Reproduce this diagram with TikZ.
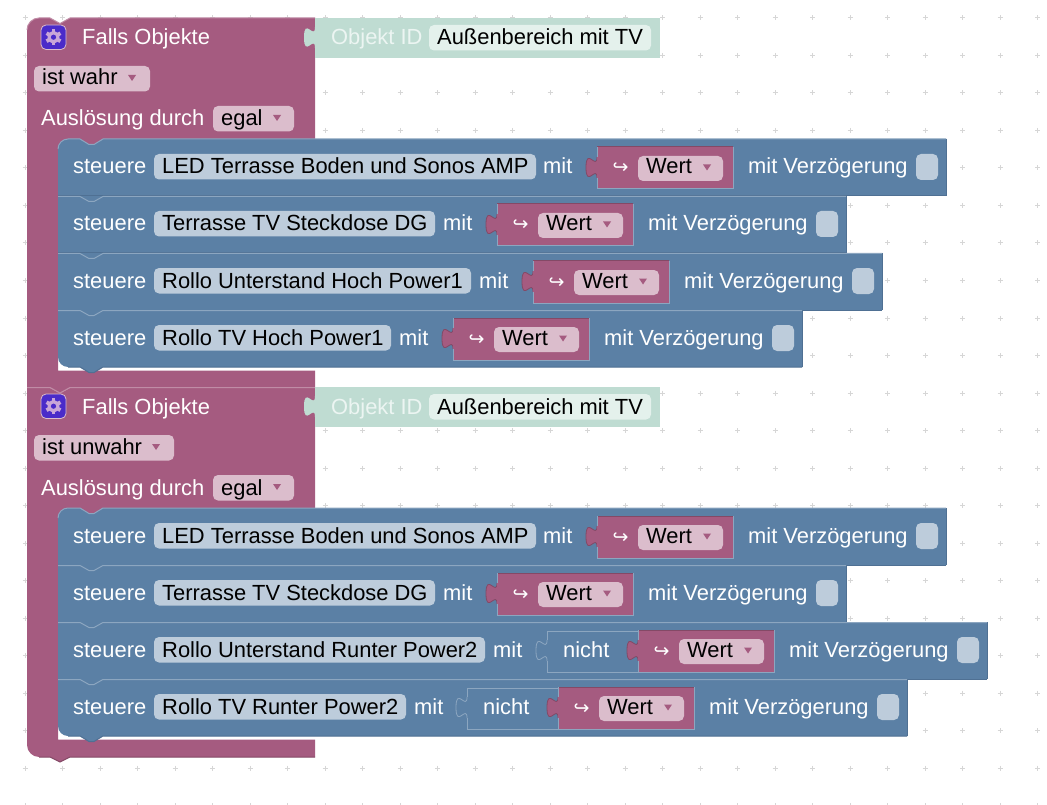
\documentclass[tikz,border=0pt]{standalone}
\usepackage{fontspec}
\setmainfont{Liberation Sans}
\newfontfamily\djfont{DejaVu Sans}
\definecolor{bluebk}{HTML}{5B80A5}
\definecolor{bluelt}{HTML}{8CA6C0}
\definecolor{bluedk}{HTML}{4F7093}
\definecolor{bluefld}{HTML}{BDCCDB}
\definecolor{purpbk}{HTML}{A55B80}
\definecolor{purplt}{HTML}{C08CA6}
\definecolor{purpdk}{HTML}{844966}
\definecolor{purpfld}{HTML}{DBBDCC}
\definecolor{greenbk}{HTML}{BFDCD2}
\definecolor{greenfld}{HTML}{E4F1EC}
\definecolor{icobg}{HTML}{4A2BC9}
\definecolor{icofg}{HTML}{C9A6D8}
\definecolor{griddot}{HTML}{D6D6D6}
\newcount\tn
\tikzset{
  lab/.style={anchor=base west,inner sep=0pt,text=white,font=\fontsize{21.9}{24}\selectfont},
  labk/.style={lab,text=black},
  pill/.style={rounded corners=5pt},
}
\newcommand\lbl[4][lab]{\global\advance\tn by 1 \node[#1] (n\the\tn) at (#2,#3) {#4};}
\newcommand\fld[5]{\fill[#5,pill] (#1,#3) rectangle (#2,#3+25.5);\lbl[labk]{#1+8}{#3+20}{#4}}
\newcommand\tri[3]{\fill[#3] (#1-4,#2-3) -- (#1+4,#2-3) -- (#1,#2+3) -- cycle;}
\newcommand\tabpath[2]{(#1,#2) .. controls (#1,#2+14) and (#1-11,#2-11) .. (#1-11,#2+10.5) .. controls (#1-11,#2+32) and (#1,#2+7) .. (#1,#2+21)}
\newcommand\srow[2]{%
  \fill[bluebk] (58,#1) rectangle (#2,#1+57);
  \draw[bluedk,line width=1pt] (#2,#1) -- (#2,#1+57);
  \draw[bluedk,line width=1pt] (58,#1+57) -- (#2,#1+57);
  \draw[bluelt,line width=1pt] (58,#1+.5) -- (80,#1+.5) -- (89,#1+5.5) -- (94,#1+5.5) -- (103,#1+.5) -- (#2,#1+.5);
}
\newcommand\firstrow[2]{%
  \fill[purpbk] (78,#1-1) rectangle (105,#1+7);
  \fill[bluebk] (58,#1+57) -- (58,#1+10) .. controls (58,#1+4.5) and (62.5,#1) .. (68,#1) -- (80,#1) -- (89,#1+5.5) -- (94,#1+5.5) -- (103,#1) -- (#2,#1) -- (#2,#1+57) -- cycle;
  \draw[bluedk,line width=1pt] (#2,#1) -- (#2,#1+57);
  \draw[bluedk,line width=1pt] (58,#1+57) -- (#2,#1+57);
  \draw[bluelt,line width=1pt] (58,#1+10) .. controls (58,#1+4.5) and (62.5,#1) .. (68,#1) -- (80,#1) -- (89,#1+5.5) -- (94,#1+5.5) -- (103,#1) -- (#2,#1);
}
\newcommand\lastrow[2]{%
  \fill[bluebk] (58,#1) -- (58,#1+47) .. controls (58,#1+52.5) and (62.5,#1+57) .. (68,#1+57) -- (80,#1+57) -- (89,#1+62.5) -- (94,#1+62.5) -- (103,#1+57) -- (#2,#1+57) -- (#2,#1) -- cycle;
  \draw[bluedk,line width=1pt] (#2,#1) -- (#2,#1+57);
  \draw[bluedk,line width=1pt] (68,#1+57) -- (80,#1+57) -- (89,#1+62.5) -- (94,#1+62.5) -- (103,#1+57) -- (#2,#1+57);
  \draw[bluelt,line width=1pt] (58,#1+.5) -- (80,#1+.5) -- (89,#1+5.5) -- (94,#1+5.5) -- (103,#1+.5) -- (#2,#1+.5);
}
\newcommand\valblk[2]{%
  \fill[purpbk] \tabpath{#1}{#2+18} -- cycle;
  \draw[purpdk,line width=.8pt] \tabpath{#1}{#2+18};
  \fill[purpbk] (#1,#2+8) rectangle (#1+136,#2+50);
  \draw[bluelt,line width=1pt] (#1,#2+50) -- (#1+136,#2+50) -- (#1+136,#2+8);
  \draw[purpdk,line width=1pt] (#1,#2+8) -- (#1+136,#2+8);
  \draw[bluelt,line width=.8pt] (#1,#2+8) -- (#1,#2+18) (#1,#2+39) -- (#1,#2+50);
  \fill[purpfld,pill] (#1+41,#2+17) rectangle (#1+126,#2+42);
  \lbl{#1+15.5}{#2+35}{\djfont\fontsize{19}{22}\selectfont ↪}
  \lbl[labk]{#1+49}{#2+35}{Wert}
  \tri{#1+110}{#2+28.5}{purpbk}
}
\newcommand\tail[2]{%
  \lbl{#1+151}{#2+35}{mit Verzögerung}
  \fill[bluefld,pill] (#1+319,#2+15) rectangle (#1+341,#2+41);
}
\newcommand\nichtb[2]{%
  \fill[bluebk] \tabpath{#1-91}{#2+18} -- cycle;
  \draw[bluelt,line width=.8pt] \tabpath{#1-91}{#2+18};
  \draw[bluelt,line width=1pt] (#1-91,#2+18) -- (#1-91,#2+9) -- (#1,#2+9) (#1-91,#2+39) -- (#1-91,#2+50) -- (#1,#2+50);
  \lbl{#1-75}{#2+35}{nicht}
}
\newcommand\hatblock[2]{%
  \lbl{82}{45}{Falls Objekte}
  \fill[icobg,pill,draw=purpfld,line width=.8pt] (41,25) rectangle (66,49.5);
  \foreach \a in {0,60,...,300}{\fill[icofg,rotate around={\a:(53.5,37.2)}] (51.6,29.2) rectangle (55.4,33);}
  \fill[icofg] (53.5,37.2) circle[radius=6];
  \fill[icobg] (53.5,37.2) circle[radius=2.6];
  \fill[purpfld,pill] (34,66) rectangle (#2,91.5);
  \lbl[labk]{42}{85}{#1}
  \tri{#2-18}{78}{purpbk}
  \lbl{41}{126}{Auslösung durch}
  \fill[purpfld,pill] (213,106) rectangle (294,131.5);
  \lbl[labk]{221}{126}{egal}
  \tri{277}{118}{purpbk}
  \fill[greenbk] (315,18) rectangle (660,58);
  \fill[greenbk] \tabpath{315}{27} -- cycle;
  \lbl[lab,text=greenfld!70!white]{331}{45}{Objekt ID}
  \fld{429}{651}{25}{Außenbereich mit TV}{greenfld}
}
\begin{document}
\begin{tikzpicture}[x=1pt,y=-1pt]
\useasboundingbox (0,0) rectangle (1047,805);
\fill[white] (0,0) rectangle (1047,805);
\foreach \i in {0,...,27}{\foreach \j in {0,...,21}{
  \draw[griddot,line width=1pt] (25+37.5*\i-2.5,18+37.5*\j) -- +(5,0) (25+37.5*\i,18+37.5*\j-2.5) -- +(0,5);
}}
% first hat block
\fill[purpbk] (27,388) -- (27,30) .. controls (27,23.5) and (32.5,18) .. (39,18) -- (50,18) -- (60,23.5) -- (70,18) -- (315,18) -- (315,139) -- (68,139) -- (58,149) -- (58,370.5) -- (315,370.5) -- (315,388) -- (70,388) -- (60,393.5) -- (50,388) -- cycle;
\draw[purplt,line width=1pt] (27,30) .. controls (27,23.5) and (32.5,18) .. (39,18) -- (50,18) -- (60,23.5) -- (70,18) -- (315,18);
% second hat block
\fill[purpbk] (27,745) -- (27,388) -- (50,388) -- (60,393.5) -- (70,388) -- (315,388) -- (315,508) -- (68,508) -- (58,518) -- (58,739.5) -- (315,739.5) -- (315,757) -- (70,757) -- (60,762) -- (50,757) -- (39,757) .. controls (32.5,757) and (27,751.5) .. (27,745) -- cycle;
\draw[purplt,line width=1pt] (27,387.5) -- (50,387.5) -- (60,393) -- (70,387.5) -- (315,387.5);
\draw[purpdk,line width=1pt] (39,757) -- (50,757) -- (60,762) -- (70,757) -- (315,757);
\hatblock{ist wahr}{150}
\begin{scope}[yshift=-369pt]
\hatblock{ist unwahr}{174}
\end{scope}
% rows, first block
\firstrow{139}{946}
\lbl{73}{174}{steuere}\fld{154}{536}{154}{LED Terrasse Boden und Sonos AMP}{bluefld}\lbl{543}{174}{mit}
\valblk{597}{139}\tail{597}{139}
\srow{196}{846}
\lbl{73}{231}{steuere}\fld{154}{435}{211}{Terrasse TV Steckdose DG}{bluefld}\lbl{443}{231}{mit}
\valblk{497}{196}\tail{497}{196}
\srow{253}{882}
\lbl{73}{288}{steuere}\fld{154}{471}{268}{Rollo Unterstand Hoch Power1}{bluefld}\lbl{479}{288}{mit}
\valblk{533}{253}\tail{533}{253}
\lastrow{310}{802}
\lbl{73}{345}{steuere}\fld{154}{391}{325}{Rollo TV Hoch Power1}{bluefld}\lbl{399}{345}{mit}
\valblk{453}{310}\tail{453}{310}
% rows, second block
\firstrow{508}{946}
\lbl{73}{543}{steuere}\fld{154}{536}{523}{LED Terrasse Boden und Sonos AMP}{bluefld}\lbl{543}{543}{mit}
\valblk{597}{508}\tail{597}{508}
\srow{565}{846}
\lbl{73}{600}{steuere}\fld{154}{435}{580}{Terrasse TV Steckdose DG}{bluefld}\lbl{443}{600}{mit}
\valblk{497}{565}\tail{497}{565}
\srow{622}{987}
\lbl{73}{657}{steuere}\fld{154}{485}{637}{Rollo Unterstand Runter Power2}{bluefld}\lbl{493}{657}{mit}
\nichtb{638}{622}\valblk{638}{622}\tail{638}{622}
\lastrow{679}{907}
\lbl{73}{714}{steuere}\fld{154}{406}{694}{Rollo TV Runter Power2}{bluefld}\lbl{414}{714}{mit}
\nichtb{558}{679}\valblk{558}{679}\tail{558}{679}
\end{tikzpicture}
\end{document}
